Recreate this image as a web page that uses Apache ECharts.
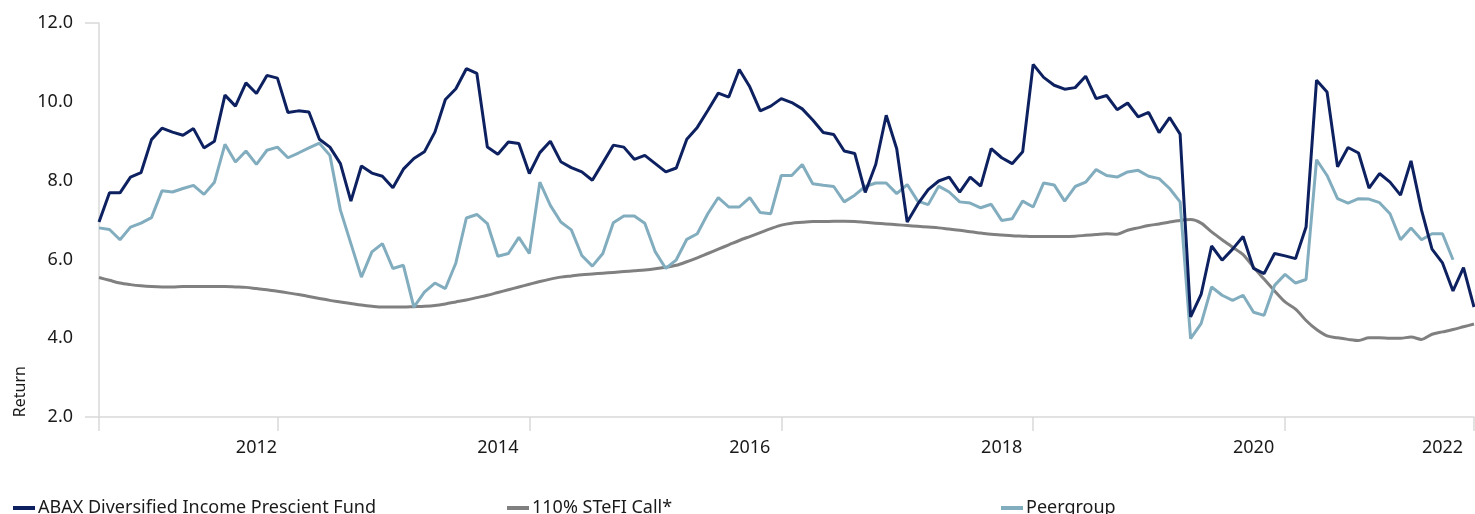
<!DOCTYPE html>
<html>
<head>
<meta charset="utf-8">
<title>Return</title>
<script src="https://cdn.jsdelivr.net/npm/echarts@6/dist/echarts.min.js"></script>
<style>
  html, body { margin: 0; padding: 0; background: #fff; }
  #main { width: 1475px; height: 514px; }
</style>
</head>
<body>
<div id="main"></div>
<script>
// monthly points
var months = [];
for (var m = 0; m < 132; m++) {
    var d = new Date(2010, 9 + m, 1);
    months.push(d.getFullYear() + '-' + ('0' + (d.getMonth() + 1)).slice(-2));
}

var yearLabels = ['2012', '2014', '2016', '2018', '2020', '2022'];
var labelIdx = [15, 38, 62, 86, 110, 128];
var tickIdx = [0, 17, 41, 65, 89, 113, 131];

var abax = [
    6.95, 7.69, 7.69, 8.09, 8.20, 9.04, 9.33, 9.23, 9.15, 9.32, 8.83, 9.00,
    10.17, 9.89, 10.48, 10.21, 10.67, 10.60, 9.73, 9.77, 9.74, 9.05, 8.85, 8.43,
    7.48, 8.37, 8.19, 8.11, 7.82, 8.29, 8.56, 8.73, 9.23, 10.06, 10.33, 10.84,
    10.72, 8.85, 8.67, 8.98, 8.94, 8.18, 8.71, 9.00, 8.48, 8.33, 8.22, 8.01,
    8.45, 8.90, 8.85, 8.54, 8.64, 8.43, 8.22, 8.32, 9.05, 9.35, 9.78, 10.22,
    10.12, 10.82, 10.38, 9.77, 9.89, 10.08, 9.98, 9.82, 9.54, 9.22, 9.17, 8.75,
    8.69, 7.70, 8.41, 9.66, 8.81, 6.95, 7.40, 7.77, 7.99, 8.09, 7.71, 8.09,
    7.86, 8.81, 8.58, 8.43, 8.73, 10.95, 10.62, 10.42, 10.32, 10.36, 10.65, 10.08,
    10.16, 9.80, 9.97, 9.62, 9.73, 9.22, 9.60, 9.18, 4.54, 5.11, 6.34, 5.98,
    6.26, 6.58, 5.77, 5.64, 6.15, 6.09, 6.02, 6.82, 10.55, 10.25, 8.35, 8.84,
    8.70, 7.81, 8.18, 7.96, 7.63, 8.50, 7.25, 6.26, 5.91, 5.20, 5.79, 4.79
];

var stefi = [
    5.54, 5.47, 5.40, 5.36, 5.33, 5.31, 5.30, 5.30, 5.31, 5.31, 5.31, 5.31,
    5.31, 5.30, 5.29, 5.26, 5.23, 5.19, 5.15, 5.11, 5.06, 5.01, 4.96, 4.92,
    4.88, 4.84, 4.81, 4.79, 4.79, 4.79, 4.80, 4.81, 4.83, 4.87, 4.92, 4.97,
    5.03, 5.09, 5.16, 5.23, 5.30, 5.37, 5.44, 5.50, 5.55, 5.58, 5.61, 5.63,
    5.65, 5.67, 5.69, 5.71, 5.73, 5.76, 5.80, 5.85, 5.94, 6.04, 6.15, 6.26,
    6.37, 6.48, 6.58, 6.68, 6.78, 6.87, 6.92, 6.94, 6.96, 6.96, 6.97, 6.97,
    6.96, 6.94, 6.92, 6.90, 6.88, 6.86, 6.84, 6.82, 6.80, 6.77, 6.74, 6.70,
    6.67, 6.64, 6.62, 6.60, 6.59, 6.58, 6.58, 6.58, 6.58, 6.59, 6.61, 6.63,
    6.65, 6.64, 6.74, 6.80, 6.86, 6.90, 6.95, 6.99, 7.01, 6.92, 6.70, 6.50,
    6.31, 6.12, 5.80, 5.50, 5.20, 4.92, 4.74, 4.45, 4.22, 4.06, 4.01, 3.97,
    3.94, 4.01, 4.01, 4.00, 4.00, 4.03, 3.97, 4.10, 4.16, 4.22, 4.29, 4.36
];

var peer = [
    6.80, 6.76, 6.50, 6.82, 6.92, 7.06, 7.74, 7.71, 7.80, 7.88, 7.65, 7.96,
    8.92, 8.47, 8.75, 8.41, 8.77, 8.85, 8.58, 8.70, 8.83, 8.95, 8.64, 7.25,
    6.40, 5.55, 6.19, 6.40, 5.77, 5.85, 4.79, 5.17, 5.40, 5.26, 5.91, 7.05,
    7.14, 6.91, 6.08, 6.15, 6.56, 6.15, 7.96, 7.37, 6.95, 6.75, 6.10, 5.83,
    6.15, 6.93, 7.10, 7.10, 6.92, 6.19, 5.77, 5.99, 6.51, 6.65, 7.16, 7.57,
    7.33, 7.33, 7.57, 7.19, 7.16, 8.13, 8.13, 8.41, 7.92, 7.88, 7.85, 7.46,
    7.63, 7.85, 7.94, 7.94, 7.67, 7.90, 7.48, 7.39, 7.86, 7.71, 7.46, 7.43,
    7.31, 7.40, 6.99, 7.03, 7.48, 7.33, 7.94, 7.89, 7.48, 7.85, 7.96, 8.28,
    8.13, 8.09, 8.22, 8.26, 8.11, 8.05, 7.80, 7.46, 3.99, 4.37, 5.30, 5.09,
    4.96, 5.09, 4.66, 4.58, 5.34, 5.62, 5.40, 5.49, 8.53, 8.13, 7.54, 7.43,
    7.54, 7.53, 7.44, 7.16, 6.50, 6.80, 6.50, 6.65, 6.65, 5.99, null, null
];

var names = ['ABAX Diversified Income Prescient Fund', '110% STeFI Call*', 'Peergroup'];
var colors = ['#0d2161', '#808080', '#82adbf'];

var chart = echarts.init(document.getElementById('main'));
var font = "'Noto Sans', sans-serif";

//one legend per item, spread along the bottom
function legend(name, left){
    return {
        data: [name],
        left: left,
        top: 494,
        icon: 'rect',
        itemWidth: 22,
        itemHeight: 4,
        selectedMode: false,
        textStyle: {fontFamily: font, fontSize: 18, color: '#1a1a1a', padding: [0, 0, 0, -2]}
    };
}

var option = {
    animation: false,
    color: colors,
    textStyle: {fontFamily: font},
    grid: {left: 99, right: 1, top: 23, bottom: 97},
    legend: [legend(names[0], 8), legend(names[1], 502), legend(names[2], 996)],
    graphic: [{
        type: 'text',
        left: 12,
        top: 366,
        rotation: Math.PI / 2,
        style: {text: 'Return', fontFamily: font, fontSize: 16, fill: '#1a1a1a'}
    }],
    xAxis: {
        type: 'category',
        boundaryGap: false,
        data: months,
        axisLine: {lineStyle: {color: '#d9d9d9', width: 1.5}},
        axisTick: {
            length: 14,
            lineStyle: {color: '#d9d9d9', width: 1.5},
            interval: function(index){ return tickIdx.indexOf(index) > -1; }
        },
        axisLabel: {
            margin: 22,
            fontSize: 18,
            color: '#1a1a1a',
            interval: function(index){ return labelIdx.indexOf(index) > -1; },
            formatter: function(value, index){
                var k = labelIdx.indexOf(index);
                return k > -1 ? yearLabels[k] : '';
            }
        },
        splitLine: {show: false}
    },
    yAxis: {
        type: 'value',
        min: 2,
        max: 12,
        interval: 2,
        axisLine: {show: true, lineStyle: {color: '#d9d9d9', width: 1.5}},
        axisTick: {show: true, length: 14, customValues: [2, 12], lineStyle: {color: '#d9d9d9', width: 1.5}},
        axisLabel: {
            margin: 26,
            fontSize: 18,
            color: '#1a1a1a',
            formatter: function(v){ return v.toFixed(1); }
        },
        splitLine: {show: false}
    },
    series: [
        {name: names[0], type: 'line', data: abax, symbol: 'none', lineStyle: {width: 3}, z: 4},
        {name: names[1], type: 'line', data: stefi, symbol: 'none', smooth: 0.3, lineStyle: {width: 3}, z: 2},
        {name: names[2], type: 'line', data: peer, symbol: 'none', lineStyle: {width: 3}, z: 3}
    ]
};

chart.setOption(option);
</script>
</body>
</html>
